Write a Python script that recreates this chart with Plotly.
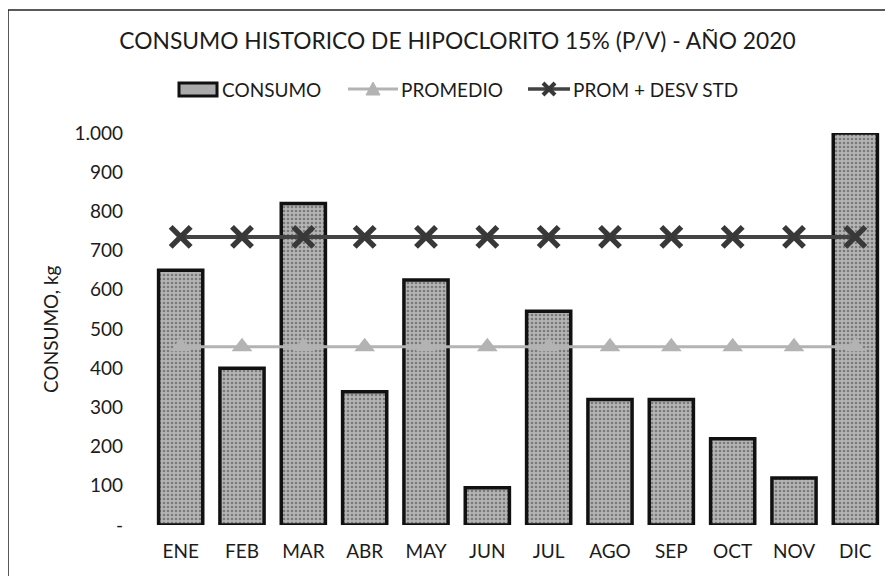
import plotly.graph_objects as go

meses = ["ENE", "FEB", "MAR", "ABR", "MAY", "JUN", "JUL", "AGO", "SEP", "OCT", "NOV", "DIC"]
consumo = [650, 400, 820, 340, 625, 95, 545, 320, 320, 220, 120, 1000]
promedio = [455] * 12
prom_desv = [735] * 12
y_ticks = [0, 100, 200, 300, 400, 500, 600, 700, 800, 900, 1000]
y_tick_labels = ["-", "100", "200", "300", "400", "500", "600", "700", "800", "900", "1.000"]
serie_nombres = ["CONSUMO", "PROMEDIO", "PROM + DESV STD"]

FONT = "Lato"
TXT = "#1c1c1c"
BAR_FILL = "#ababab"
PROM_COL = "#b3b3b3"
DESV_COL = "#434343"
W, H = 893, 576
OFF = 8  # page offset of the figure inside the browser window

# plot area in screen pixels (as measured in the reference)
SL, SR, ST, SB = 150, 886, 133, 525
L, T = SL - OFF, ST - OFF
R = W - (SR - OFF)
B = H - (SB - OFF)
pw, ph = W - L - R, H - T - B


def px(xs):
    return (xs - OFF - L) / pw


def py(ys):
    return (H - B - (ys - OFF)) / ph


fig = go.Figure()
fig.add_trace(go.Bar(
    x=meses, y=consumo, name=serie_nombres[0],
    marker=dict(color=BAR_FILL, line=dict(color="#111111", width=3.5),
                pattern=dict(shape=".", size=4, solidity=0.35, fgcolor="#7a7a7a",
                             bgcolor="#b5b5b5", fillmode="replace")),
))
fig.add_trace(go.Scatter(
    x=meses, y=promedio, name=serie_nombres[1], mode="lines+markers",
    line=dict(color=PROM_COL, width=3),
    marker=dict(symbol="triangle-up", size=18, color=PROM_COL),
))
fig.add_trace(go.Scatter(
    x=meses, y=prom_desv, name=serie_nombres[2], mode="lines+markers",
    line=dict(color=DESV_COL, width=4),
    marker=dict(symbol="x-thin", size=20, line=dict(color="#383838", width=5.5)),
))

# manual legend (swatches + text)
ly = 89
shapes = [
    dict(type="line", xref="paper", yref="paper", x0=px(8), x1=px(8), y0=py(10), y1=py(590),
         line=dict(color="#222222", width=1.5)),
    dict(type="line", xref="paper", yref="paper", x0=px(8), x1=px(905), y0=py(10), y1=py(10),
         line=dict(color="#222222", width=1.5)),
    dict(type="rect", xref="paper", yref="paper", x0=px(179), x1=px(217), y0=py(83), y1=py(96),
         fillcolor=BAR_FILL, line=dict(color="#111111", width=3)),
    dict(type="line", xref="paper", yref="paper", x0=px(348), x1=px(398), y0=py(ly), y1=py(ly),
         line=dict(color=PROM_COL, width=3)),
    dict(type="path", xref="paper", yref="paper",
         path=f"M {px(366)},{py(ly + 6)} L {px(380)},{py(ly + 6)} L {px(373)},{py(ly - 7)} Z",
         fillcolor=PROM_COL, line=dict(color=PROM_COL, width=1)),
    dict(type="line", xref="paper", yref="paper", x0=px(528), x1=px(570), y0=py(ly), y1=py(ly),
         line=dict(color=DESV_COL, width=3.5)),
    dict(type="line", xref="paper", yref="paper", x0=px(543), x1=px(555), y0=py(ly - 6), y1=py(ly + 6),
         line=dict(color="#383838", width=4)),
    dict(type="line", xref="paper", yref="paper", x0=px(543), x1=px(555), y0=py(ly + 6), y1=py(ly - 6),
         line=dict(color="#383838", width=4)),
]
annotations = [
    dict(text=serie_nombres[0], x=px(220), y=py(ly), xref="paper", yref="paper",
         xanchor="left", yanchor="middle", showarrow=False, font=dict(size=19, family=FONT, color=TXT)),
    dict(text=serie_nombres[1], x=px(399), y=py(ly), xref="paper", yref="paper",
         xanchor="left", yanchor="middle", showarrow=False, font=dict(size=19, family=FONT, color=TXT)),
    dict(text=serie_nombres[2], x=px(571), y=py(ly), xref="paper", yref="paper",
         xanchor="left", yanchor="middle", showarrow=False, font=dict(size=19, family=FONT, color=TXT)),
    dict(text="CONSUMO, kg", x=px(50), y=py(329), xref="paper", yref="paper", textangle=-90,
         xanchor="center", yanchor="middle", showarrow=False, font=dict(size=19, family=FONT, color=TXT)),
]

fig.update_layout(
    width=W, height=H,
    margin=dict(l=L, r=R, t=T, b=B),
    paper_bgcolor="white", plot_bgcolor="white",
    font=dict(family=FONT, color=TXT, size=19),
    bargap=0.28,
    showlegend=False,
    title=dict(text="CONSUMO HISTORICO DE HIPOCLORITO 15% (P/V) - AÑO 2020",
               x=(457.5 - OFF) / W, y=1 - (41 - OFF) / H, xanchor="center", yanchor="middle",
               font=dict(size=22.8, family=FONT, color=TXT)),
    xaxis=dict(range=[-0.5, len(meses) - 0.5], showgrid=False, showline=False, ticks="",
               tickfont=dict(size=19), ticklabelstandoff=13, automargin=False),
    yaxis=dict(range=[0, 1000], tickvals=y_ticks, ticktext=y_tick_labels,
               showgrid=False, showline=False, zeroline=False, ticks="",
               tickfont=dict(size=19), ticklabelstandoff=26, automargin=False),
    shapes=shapes,
    annotations=annotations,
)

fig.write_html("out.html")
